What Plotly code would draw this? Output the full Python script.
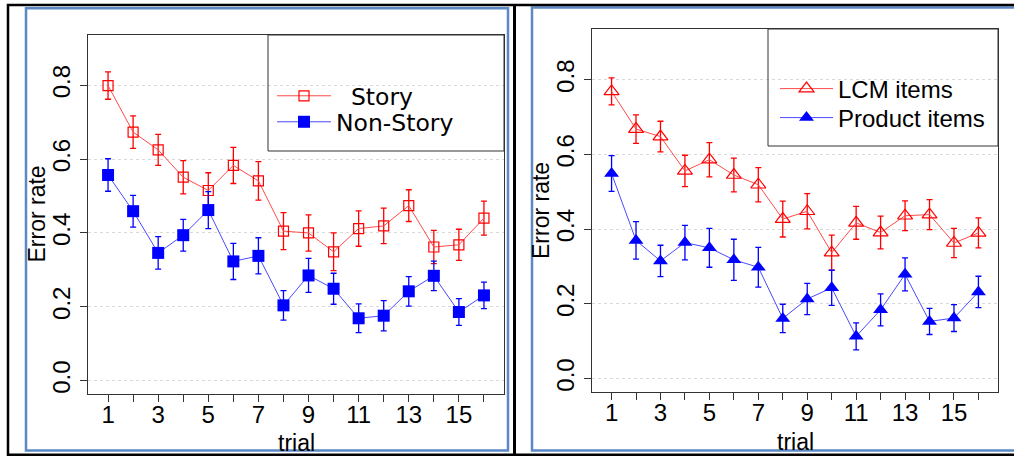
import plotly.graph_objects as go

# ---- data -------------------------------------------------------------
trial = list(range(1, 17))

story = [0.799, 0.673, 0.625, 0.551, 0.515, 0.583, 0.541, 0.405,
         0.400, 0.349, 0.412, 0.419, 0.474, 0.362, 0.368, 0.440]
story_se = [0.037, 0.044, 0.042, 0.045, 0.048, 0.049, 0.052, 0.050,
            0.049, 0.051, 0.048, 0.048, 0.043, 0.045, 0.042, 0.046]

non_story = [0.557, 0.459, 0.346, 0.394, 0.462, 0.323, 0.338, 0.204,
             0.285, 0.249, 0.169, 0.176, 0.242, 0.284, 0.186, 0.231]
non_story_se = [0.044, 0.043, 0.044, 0.043, 0.050, 0.049, 0.049, 0.040,
                0.046, 0.042, 0.039, 0.041, 0.040, 0.040, 0.036, 0.036]

lcm = [0.769, 0.668, 0.648, 0.556, 0.586, 0.545, 0.519, 0.427,
       0.448, 0.337, 0.417, 0.391, 0.436, 0.439, 0.363, 0.390]
lcm_se = [0.036, 0.038, 0.041, 0.042, 0.046, 0.045, 0.046, 0.048,
          0.047, 0.047, 0.044, 0.044, 0.040, 0.040, 0.039, 0.040]

product = [0.549, 0.370, 0.315, 0.364, 0.350, 0.318, 0.298, 0.161,
           0.213, 0.243, 0.113, 0.184, 0.279, 0.153, 0.162, 0.232]
product_se = [0.048, 0.050, 0.042, 0.046, 0.052, 0.055, 0.053, 0.038,
              0.042, 0.047, 0.036, 0.043, 0.044, 0.035, 0.036, 0.042]

y_ticks = [0.0, 0.2, 0.4, 0.6, 0.8]
x_ticks = trial
x_ticktext = [str(t) if t % 2 == 1 else "" for t in trial]
x_grid = [0, 5, 10, 15]

# ---- styling ----------------------------------------------------------
W, H = 1014, 457
RED, BLUE = "#ff0000", "#0000ff"
RED_LINE, BLUE_LINE = "#ff4a4a", "#4a4aff"
AXIS_FONT = dict(family="Liberation Sans, Arial", size=24, color="black")
FRAME = "#333333"
GRID = "#d9d9d9"


def px_x(v):
    return v / W


def px_y(v):
    return 1 - v / H


fig = go.Figure()


def add_series(xa, ya, y, se, name, symbol, size, mcolor, lcolor, legend, open_marker):
    marker = dict(symbol=symbol, size=size, color=mcolor)
    if open_marker:
        marker["line"] = dict(color=mcolor, width=1.2)
    else:
        marker["line"] = dict(width=0)
    fig.add_trace(go.Scatter(
        x=trial, y=y, name=name, mode="lines+markers",
        xaxis=xa, yaxis=ya, legend=legend,
        line=dict(color=lcolor, width=1),
        marker=marker,
        error_y=dict(type="data", array=se, visible=True,
                     color=mcolor, thickness=1.3, width=3),
    ))


add_series("x", "y", story, story_se, "\u00a0\u00a0Story", "square-open", 10,
           RED, RED_LINE, "legend", True)
add_series("x", "y", non_story, non_story_se, "Non-Story", "square", 12,
           BLUE, BLUE_LINE, "legend2", False)
add_series("x2", "y2", lcm, lcm_se, "LCM items", "triangle-up-open", 13,
           RED, RED_LINE, "legend3", True)
add_series("x2", "y2", product, product_se, "Product items", "triangle-up", 13,
           BLUE, BLUE_LINE, "legend4", False)

# plot boxes (pixel positions -> paper fractions)
left_dom_x = [px_x(88), px_x(504)]
left_dom_y = [px_y(394), px_y(35)]
right_dom_x = [px_x(592), px_x(998)]
right_dom_y = [px_y(392), px_y(29)]

x_range = [0.2, 16.8]
y_range = [-0.036, 0.936]

xaxis_common = dict(
    range=x_range, tickmode="array", tickvals=x_ticks, ticktext=x_ticktext,
    ticks="outside", ticklen=7, tickwidth=1, tickcolor=FRAME,
    ticklabelstandoff=-8,
    showgrid=False, zeroline=False, showline=True, mirror=True,
    linecolor=FRAME, linewidth=1, tickfont=AXIS_FONT, fixedrange=True,
)
yaxis_common = dict(
    range=y_range, tickmode="array", tickvals=y_ticks, tickformat=".1f",
    ticks="outside", ticklen=7, tickwidth=1, tickcolor=FRAME, tickangle=-90,
    showgrid=True, gridcolor=GRID, griddash="dot", gridwidth=1,
    zeroline=False, showline=True, mirror=True,
    linecolor=FRAME, linewidth=1, tickfont=AXIS_FONT, fixedrange=True,
)
grid_axis = dict(
    range=x_range, tickmode="array", tickvals=x_grid, showticklabels=False,
    ticks="", showgrid=True, gridcolor=GRID, griddash="dot", gridwidth=1,
    zeroline=False, showline=False, fixedrange=True,
)

fig.update_layout(
    width=W, height=H, margin=dict(l=0, r=0, t=0, b=0),
    paper_bgcolor="white", plot_bgcolor="white",
    xaxis=dict(domain=left_dom_x, anchor="y", **xaxis_common),
    yaxis=dict(domain=left_dom_y, anchor="x", **yaxis_common),
    xaxis2=dict(domain=right_dom_x, anchor="y2", **xaxis_common),
    yaxis2=dict(domain=right_dom_y, anchor="x2", **yaxis_common),
    xaxis3=dict(domain=left_dom_x, anchor="y", overlaying="x", **grid_axis),
    xaxis4=dict(domain=right_dom_x, anchor="y2", overlaying="x2", **grid_axis),
    showlegend=True,
)

leg_left_font = dict(family="DejaVu Sans, Verdana", size=23.5, color="black")
leg_right_font = dict(family="Liberation Sans, Arial", size=24, color="black")
legend_base = dict(bgcolor="rgba(0,0,0,0)", borderwidth=0,
                   xanchor="left", yanchor="middle", itemclick=False,
                   itemdoubleclick=False)
fig.update_layout(
    legend=dict(x=px_x(272), y=px_y(96), font=leg_left_font,
                itemwidth=54, **legend_base),
    legend2=dict(x=px_x(272), y=px_y(122), font=leg_left_font,
                 itemwidth=54, **legend_base),
    legend3=dict(x=px_x(775), y=px_y(89), font=leg_right_font,
                 itemwidth=53, **legend_base),
    legend4=dict(x=px_x(775), y=px_y(118), font=leg_right_font,
                 itemwidth=53, **legend_base),
)

# axis titles
ann = []
for cx, cy in [(36.5, 214), (541, 211)]:
    ann.append(dict(text="Error rate", x=px_x(cx), y=px_y(cy), xref="paper",
                    yref="paper", showarrow=False, textangle=-90,
                    font=dict(family="Liberation Sans, Arial", size=23, color="black"),
                    xanchor="center", yanchor="middle"))
for cx, cy in [(296, 443), (795, 442)]:
    ann.append(dict(text="trial", x=px_x(cx), y=px_y(cy), xref="paper",
                    yref="paper", showarrow=False,
                    font=dict(family="Liberation Sans, Arial", size=23, color="black"),
                    xanchor="center", yanchor="middle"))
fig.update_layout(annotations=ann)

# legend boxes, panel frames and page border
shapes = [
    dict(type="rect", xref="paper", yref="paper", x0=px_x(268), x1=px_x(504),
         y0=px_y(151), y1=px_y(35), line=dict(color=FRAME, width=1)),
    dict(type="rect", xref="paper", yref="paper", x0=px_x(768), x1=px_x(998),
         y0=px_y(146), y1=px_y(29), line=dict(color=FRAME, width=1)),
    dict(type="rect", xref="paper", yref="paper", x0=px_x(26), x1=px_x(508),
         y0=px_y(450.5), y1=px_y(8.3), line=dict(color="#5a89c6", width=2.5)),
    dict(type="rect", xref="paper", yref="paper", x0=px_x(532), x1=px_x(1030),
         y0=px_y(450.5), y1=px_y(7.5), line=dict(color="#5a89c6", width=2.5)),
    dict(type="rect", xref="paper", yref="paper", x0=px_x(8), x1=px_x(1040),
         y0=px_y(454.7), y1=px_y(5), line=dict(color="black", width=2.5)),
    dict(type="line", xref="paper", yref="paper", x0=px_x(514.5), x1=px_x(514.5),
         y0=px_y(454.7), y1=px_y(5), line=dict(color="black", width=3)),
]
fig.update_layout(shapes=shapes)

fig.write_html("out.html")
